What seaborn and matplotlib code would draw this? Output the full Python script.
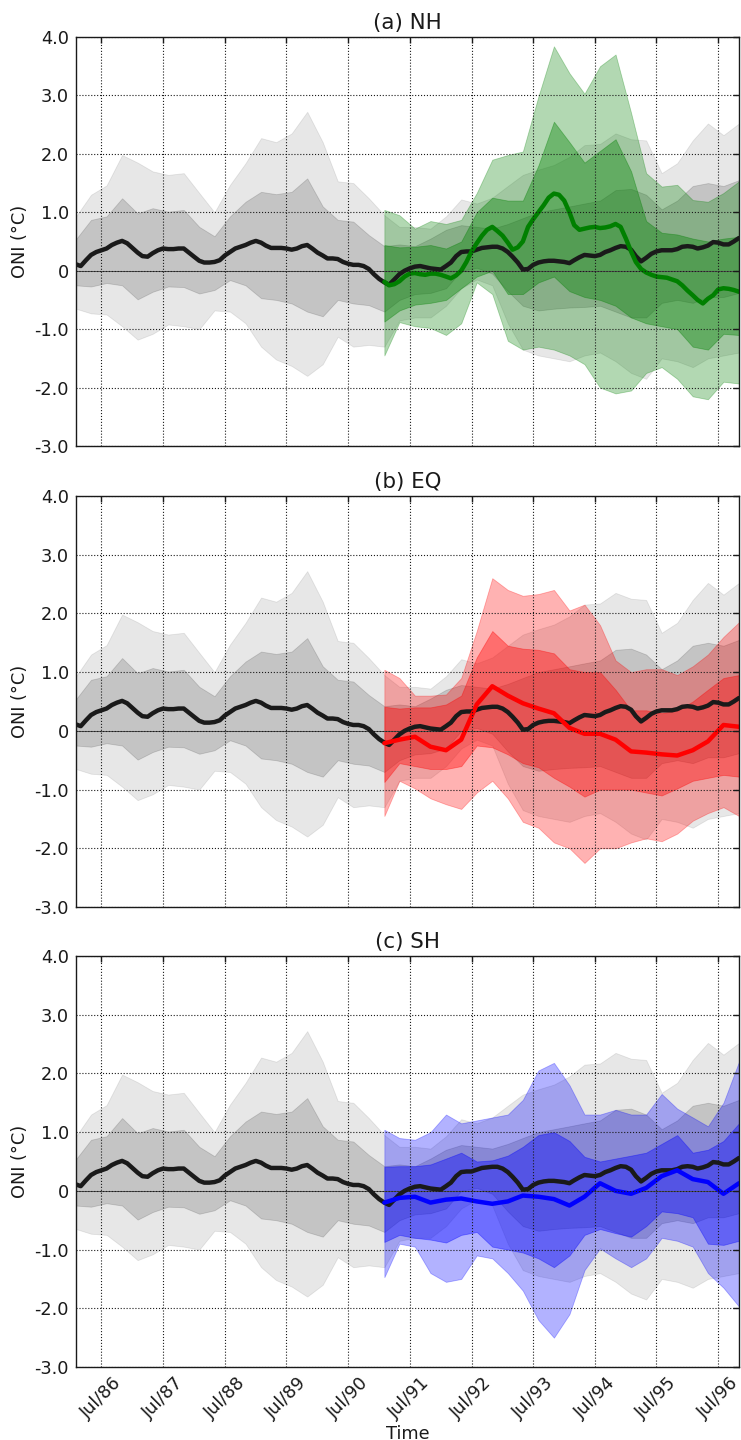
import numpy as np
import pandas as pd
import matplotlib
matplotlib.use("Agg")
import matplotlib.pyplot as plt
import seaborn as sns

# ---- time axes -----------------------------------------------------------
ctrl_months = pd.date_range("1986-02-01", periods=130, freq="MS")   # monthly mean curve
ctrl_seasons = pd.date_range("1986-02-01", periods=44, freq="3MS")  # spread envelope
pert_months = pd.date_range("1991-02-01", periods=70, freq="MS")
pert_seasons = ctrl_seasons[20:]
tick_dates = pd.date_range("1986-07-01", "1996-07-01", freq="12MS")
tick_labels = ["Jul/86", "Jul/87", "Jul/88", "Jul/89", "Jul/90", "Jul/91",
               "Jul/92", "Jul/93", "Jul/94", "Jul/95", "Jul/96"]
ytick_vals = [-3, -2, -1, 0, 1, 2, 3, 4]
ytick_labels = ["-3.0", "-2.0", "-1.0", "0", "1.0", "2.0", "3.0", "4.0"]

# ---- control run ---------------------------------------------------------
ctrl_mean = [0.11, 0.08, 0.18, 0.27, 0.32, 0.35, 0.38, 0.44, 0.48, 0.51,
             0.47, 0.39, 0.31, 0.25, 0.24, 0.30, 0.35, 0.38, 0.37, 0.37,
             0.38, 0.38, 0.31, 0.24, 0.17, 0.14, 0.14, 0.15, 0.18, 0.26,
             0.32, 0.38, 0.41, 0.44, 0.48, 0.51, 0.48, 0.43, 0.39, 0.39,
             0.39, 0.38, 0.36, 0.38, 0.42, 0.44, 0.38, 0.31, 0.26, 0.21,
             0.21, 0.20, 0.15, 0.12, 0.10, 0.10, 0.08, 0.03, -0.06, -0.14,
             -0.20, -0.24, -0.15, -0.06, 0.00, 0.04, 0.07, 0.08, 0.06, 0.04,
             0.03, 0.02, 0.08, 0.14, 0.25, 0.32, 0.33, 0.33, 0.36, 0.39,
             0.40, 0.41, 0.41, 0.38, 0.32, 0.24, 0.14, 0.02, 0.03, 0.10,
             0.14, 0.16, 0.17, 0.17, 0.16, 0.15, 0.13, 0.18, 0.23, 0.27,
             0.26, 0.25, 0.27, 0.32, 0.35, 0.39, 0.42, 0.41, 0.36, 0.25,
             0.16, 0.22, 0.29, 0.33, 0.35, 0.35, 0.35, 0.37, 0.41, 0.42,
             0.41, 0.38, 0.40, 0.43, 0.49, 0.48, 0.45, 0.45, 0.50, 0.56]
ctrl_hi1 = [0.54, 0.87, 0.93, 1.24, 0.98, 1.07, 1.01, 1.04, 0.75, 0.59,
            0.93, 1.18, 1.35, 1.31, 1.35, 1.58, 1.10, 0.87, 0.84, 0.61,
            0.42, 0.45, 0.42, 0.55, 0.70, 0.78, 0.75, 0.72, 0.80, 0.90,
            1.00, 1.05, 1.10, 1.15, 1.20, 1.38, 1.40, 1.30, 1.05, 1.20,
            1.45, 1.50, 1.45, 1.55]
ctrl_lo1 = [-0.25, -0.27, -0.21, -0.25, -0.49, -0.36, -0.27, -0.28, -0.39, -0.33,
            -0.16, -0.25, -0.47, -0.50, -0.56, -0.70, -0.78, -0.50, -0.56, -0.59,
            -0.70, -0.50, -0.40, -0.38, -0.30, 0.00, 0.05, -0.05, -0.35, -0.60,
            -0.68, -0.65, -0.63, -0.62, -0.60, -0.70, -0.80, -0.80, -0.55, -0.50,
            -0.55, -0.45, -0.45, -0.38]
ctrl_hi2 = [0.93, 1.30, 1.46, 1.98, 1.85, 1.70, 1.64, 1.67, 1.33, 1.00,
            1.47, 1.84, 2.27, 2.20, 2.35, 2.72, 2.20, 1.53, 1.50, 1.24,
            0.95, 0.75, 0.75, 0.72, 0.93, 1.22, 1.15, 1.25, 1.45, 1.64,
            1.73, 1.81, 1.95, 2.15, 2.17, 2.35, 2.25, 2.23, 1.67, 1.84,
            2.23, 2.52, 2.32, 2.52]
ctrl_lo2 = [-0.65, -0.73, -0.75, -0.95, -1.18, -1.08, -0.92, -0.95, -1.00, -0.68,
            -0.70, -0.90, -1.30, -1.52, -1.63, -1.80, -1.60, -1.13, -1.30, -1.27,
            -1.30, -0.85, -0.80, -0.80, -0.60, -0.30, -0.15, -0.25, -0.90, -1.35,
            -1.45, -1.50, -1.55, -1.45, -1.40, -1.55, -1.75, -1.85, -1.50, -1.55,
            -1.65, -1.50, -1.45, -1.40]

# ---- perturbed ensembles --------------------------------------------------
# NH: monthly mean
nh_mean = [-0.19, -0.25, -0.23, -0.18, -0.10, -0.05, -0.04, -0.06, -0.07, -0.05,
           -0.05, -0.07, -0.10, -0.13, -0.08, 0.00, 0.15, 0.33, 0.47, 0.60,
           0.70, 0.75, 0.68, 0.60, 0.48, 0.36, 0.40, 0.50, 0.75, 0.88,
           1.00, 1.12, 1.25, 1.32, 1.30, 1.20, 1.00, 0.78, 0.70, 0.72,
           0.74, 0.75, 0.73, 0.74, 0.76, 0.80, 0.75, 0.55, 0.33, 0.15,
           0.03, -0.03, -0.07, -0.10, -0.11, -0.12, -0.15, -0.18, -0.25, -0.34,
           -0.42, -0.50, -0.56, -0.48, -0.42, -0.32, -0.30, -0.31, -0.33, -0.36]
nh_hi1 = [0.44, 0.40, 0.41, 0.44, 0.38, 0.50, 1.00, 1.25, 1.20, 1.20,
          1.80, 2.55, 2.20, 1.85, 2.05, 2.25, 1.70, 0.85, 0.65, 0.62,
          0.55, 0.50, 0.55, 0.58]
nh_lo1 = [-0.87, -0.68, -0.58, -0.55, -0.50, -0.30, -0.10, 0.00, -0.40, -0.40,
          -0.20, -0.10, -0.35, -0.45, -0.50, -0.60, -0.80, -0.90, -0.95, -1.00,
          -1.30, -1.35, -1.08, -1.10]
nh_hi2 = [1.04, 0.95, 0.72, 0.85, 0.80, 0.87, 1.33, 1.90, 1.98, 2.04,
          2.98, 3.84, 3.38, 3.03, 3.50, 3.70, 2.70, 1.67, 1.44, 1.47,
          1.21, 1.18, 1.33, 1.53]
nh_lo2 = [-1.45, -0.88, -0.95, -0.98, -1.10, -0.90, -0.20, -0.40, -1.20, -1.35,
          -1.30, -1.35, -1.45, -1.60, -2.00, -2.10, -2.05, -1.75, -1.65, -1.85,
          -2.15, -2.20, -1.90, -1.93]

# EQ and SH: seasonal mean
eq_mean = [-0.21, -0.15, -0.10, -0.27, -0.33, -0.15, 0.45, 0.76, 0.60, 0.47,
           0.38, 0.30, 0.05, -0.05, -0.05, -0.15, -0.35, -0.37, -0.40, -0.42,
           -0.33, -0.18, 0.10, 0.07]
eq_hi1 = [0.41, 0.38, 0.40, 0.40, 0.45, 0.60, 1.25, 1.70, 1.45, 1.40,
          1.38, 1.32, 1.05, 1.00, 1.00, 0.70, 0.35, 0.35, 0.30, 0.35,
          0.50, 0.70, 0.90, 0.95]
eq_lo1 = [-0.87, -0.55, -0.60, -0.65, -0.65, -0.60, -0.25, -0.28, -0.40, -0.55,
          -0.62, -0.80, -0.95, -1.12, -1.00, -1.00, -1.00, -1.05, -1.10, -0.98,
          -0.85, -0.80, -0.75, -0.78]
eq_hi2 = [1.04, 0.90, 0.60, 0.60, 0.62, 0.90, 1.70, 2.60, 2.40, 2.30,
          2.33, 2.40, 2.05, 2.15, 1.80, 1.20, 1.00, 1.05, 1.05, 0.95,
          1.10, 1.30, 1.60, 1.85]
eq_lo2 = [-1.45, -0.85, -0.98, -1.15, -1.25, -1.33, -1.05, -0.85, -1.15, -1.55,
          -1.65, -1.90, -2.00, -2.25, -2.00, -2.00, -1.90, -1.83, -1.88, -1.75,
          -1.53, -1.40, -1.30, -1.45]

sh_mean = [-0.20, -0.12, -0.10, -0.20, -0.15, -0.13, -0.18, -0.22, -0.18, -0.08,
           -0.10, -0.14, -0.25, -0.10, 0.13, 0.00, -0.05, 0.05, 0.25, 0.35,
           0.20, 0.15, -0.05, 0.13]
sh_hi1 = [0.41, 0.42, 0.42, 0.45, 0.55, 0.65, 0.50, 0.52, 0.60, 0.75,
          0.95, 1.00, 0.85, 0.58, 0.50, 0.55, 0.60, 0.65, 0.80, 0.95,
          0.65, 0.70, 0.85, 1.15]
sh_lo1 = [-0.87, -0.75, -0.80, -0.83, -0.88, -0.75, -0.70, -0.95, -1.00, -1.05,
          -1.15, -1.30, -1.10, -0.75, -0.65, -0.72, -0.78, -0.60, -0.35, -0.38,
          -0.45, -0.90, -0.92, -0.85]
sh_hi2 = [1.04, 0.90, 0.87, 1.00, 1.30, 1.15, 1.20, 1.25, 1.30, 1.55,
          2.05, 2.18, 1.80, 1.30, 1.30, 1.38, 1.30, 1.30, 1.65, 1.40,
          1.25, 1.10, 1.50, 2.20]
sh_lo2 = [-1.47, -0.90, -0.95, -1.40, -1.55, -1.50, -1.10, -1.15, -1.40, -1.70,
          -2.20, -2.50, -2.10, -1.35, -0.98, -1.15, -1.30, -1.15, -0.80, -0.85,
          -0.95, -1.40, -1.65, -1.97]

panels = [
    ("(a) NH", "green", pert_months, nh_mean, nh_hi1, nh_lo1, nh_hi2, nh_lo2),
    ("(b) EQ", "red", pert_seasons, eq_mean, eq_hi1, eq_lo1, eq_hi2, eq_lo2),
    ("(c) SH", "blue", pert_seasons, sh_mean, sh_hi1, sh_lo1, sh_hi2, sh_lo2),
]

# ---- style --------------------------------------------------------------
sns.set_theme(style="white")
plt.rcParams.update({
    "font.family": ["DejaVu Sans"],
    "font.size": 12.8,
    "axes.unicode_minus": False,
    "text.color": "k",
    "axes.labelcolor": "k",
    "axes.titlecolor": "k",
    "xtick.color": "k",
    "ytick.color": "k",
})

fig = plt.figure(figsize=(7.41, 14.4), dpi=100)
W, H = 741.0, 1440.0
left, right = 76 / W, 739 / W
rows = [(37, 446), (496, 907), (956, 1367)]

for i, ((top_px, bot_px), (title, col, mdates, m, hi1, lo1, hi2, lo2)) in enumerate(zip(rows, panels)):
    ax = fig.add_axes([left, 1 - bot_px / H, right - left, (bot_px - top_px) / H])
    ax.set_facecolor("white")

    # control spread
    ax.fill_between(ctrl_seasons, ctrl_lo2, ctrl_hi2, color="k", alpha=0.10, lw=0.6)
    ax.fill_between(ctrl_seasons, ctrl_lo1, ctrl_hi1, color="k", alpha=0.17, lw=0.6)
    # perturbed spread
    ax.fill_between(pert_seasons, lo2, hi2, color=col, alpha=0.30, lw=0.6)
    ax.fill_between(pert_seasons, lo1, hi1, color=col, alpha=0.38, lw=0.6)

    ax.axhline(0, color="0.3", lw=0.7, zorder=1.5)

    sns.lineplot(x=ctrl_months, y=ctrl_mean, ax=ax, color="k", lw=3.2)
    sns.lineplot(x=mdates, y=m, ax=ax, color=col, lw=3.2)

    ax.set_xlim(pd.Timestamp("1986-02-01"), pd.Timestamp("1996-11-01"))
    ax.set_ylim(-3, 4)
    ax.set_yticks(ytick_vals)
    ax.set_yticklabels(ytick_labels)
    ax.set_xticks(tick_dates)
    ax.grid(True, ls=":", color="k", lw=0.8)
    ax.set_axisbelow(False)
    ax.tick_params(direction="in", length=4, width=1, top=True, right=True,
                   colors="k", labelsize=12.8, pad=5)
    for sp in ax.spines.values():
        sp.set_visible(True)
        sp.set_color("k")
        sp.set_linewidth(1.0)
    ax.set_ylabel("ONI (°C)", fontsize=12.8, labelpad=4)
    ax.set_title(title, fontsize=15.4, pad=6)
    if i < 2:
        ax.set_xticklabels([])
        ax.set_xlabel("")
    else:
        ax.set_xticklabels(tick_labels, rotation=45, ha="center")
        ax.set_xlabel("Time", fontsize=12.8, labelpad=2)

fig.savefig("out.png", dpi=100)
